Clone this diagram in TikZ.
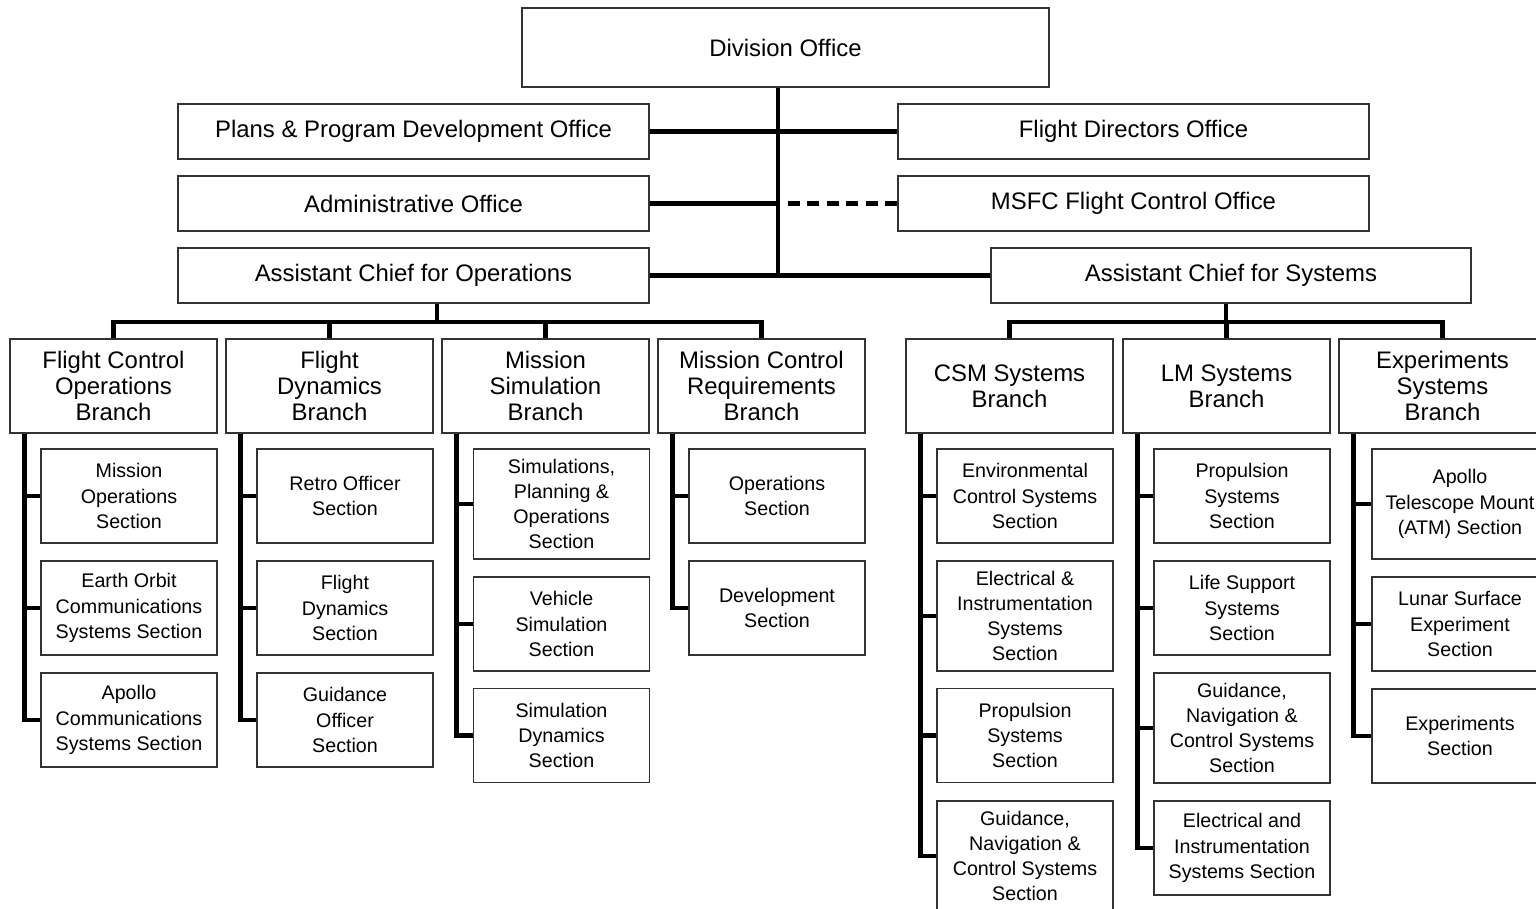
\documentclass[tikz,border=0pt]{standalone}
\usepackage{fontspec}
\setmainfont{Liberation Sans}
\tikzset{
	unit/.style={draw=black!80, line width=0.75pt, align=center, inner sep=0pt},
	office/.style={unit, minimum width=9.42cm, minimum height=1.1cm, font=\fontsize{13.6}{15}\selectfont},
	branch/.style={unit, minimum width=4.14cm, minimum height=1.88cm, font=\fontsize{13.6}{15}\selectfont},
	sect/.style={unit, minimum width=3.52cm, minimum height=1.88cm, font=\fontsize{11.2}{14.4}\selectfont},
	tall/.style={minimum height=2.2cm},
	link/.style={line width=2.6pt},
}
\begin{document}
\begin{tikzpicture}[x=0.02cm, y=-0.02cm]
				\useasboundingbox (0,0) rectangle (1536,909);
				\clip (0,0) rectangle (1536,909);
				% Các văn phòng
				\node[office, minimum width=10.54cm, minimum height=1.58cm] (div) at (785.5,47.5) {Division Office};
				\node[office] (plans) at (413.5,131.5) {Plans \& Program Development Office};
				\node[office] (fdo) at (1133.5,131.5) {Flight Directors Office};
				\node[office] (admin) at (413.5,203.5) {Administrative Office};
				\node[office] (msfc) at (1133.5,203.5) {MSFC Flight Control Office};
				\node[office] (ops) at (413.5,275.5) {Assistant Chief for Operations};
				\node[office, minimum width=9.6cm] (sys) at (1231,275.5) {Assistant Chief for Systems};
				
				% Các nhánh
				\node[branch] (fcob) at (113.5,386) {Flight Control\\Operations\\Branch};
				\node[branch] (fdb) at (329.5,386) {Flight\\Dynamics\\Branch};
				\node[branch] (msb) at (545.5,386) {Mission\\Simulation\\Branch};
				\node[branch] (mcrb) at (761.5,386) {Mission Control\\Requirements\\Branch};
				\node[branch] (csm) at (1009.5,386) {CSM Systems\\Branch};
				\node[branch] (lm) at (1226.5,386) {LM Systems\\Branch};
				\node[branch] (exp) at (1442.5,386) {Experiments\\Systems\\Branch};
				
				% Các bộ phận
				\node[sect] (fcob1) at (129,496) {Mission\\Operations\\Section};
				\node[sect] (fcob2) at (129,608) {Earth Orbit\\Communications\\Systems Section};
				\node[sect] (fcob3) at (129,720) {Apollo\\Communications\\Systems Section};
				\node[sect] (fdb1) at (345,496) {Retro Officer\\Section};
				\node[sect] (fdb2) at (345,608) {Flight\\Dynamics\\Section};
				\node[sect] (fdb3) at (345,720) {Guidance\\Officer\\Section};
				\node[sect, tall] (msb1) at (561.5,504) {Simulations,\\Planning \&\\Operations\\Section};
				\node[sect] (msb2) at (561.5,624) {Vehicle\\Simulation\\Section};
				\node[sect] (msb3) at (561.5,735.5) {Simulation\\Dynamics\\Section};
				\node[sect] (mcrb1) at (777,496) {Operations\\Section};
				\node[sect] (mcrb2) at (777,608) {Development\\Section};
				\node[sect] (csm1) at (1025,496) {Environmental\\Control Systems\\Section};
				\node[sect, tall] (csm2) at (1025,616) {Electrical \&\\Instrumentation\\Systems\\Section};
				\node[sect] (csm3) at (1025,735.5) {Propulsion\\Systems\\Section};
				\node[sect, tall] (csm4) at (1025,856) {Guidance,\\Navigation \&\\Control Systems\\Section};
				\node[sect] (lm1) at (1242,496) {Propulsion\\Systems\\Section};
				\node[sect] (lm2) at (1242,608) {Life Support\\Systems\\Section};
				\node[sect, tall] (lm3) at (1242,728) {Guidance,\\Navigation \&\\Control Systems\\Section};
				\node[sect] (lm4) at (1242,848) {Electrical and\\Instrumentation\\Systems Section};
				\node[sect, tall] (exp1) at (1460,504) {Apollo\\Telescope Mount\\(ATM) Section};
				\node[sect] (exp2) at (1460,624) {Lunar Surface\\Experiment\\Section};
				\node[sect] (exp3) at (1460,736) {Experiments\\Section};
				
				% Đường nối phía trên
				\coordinate (trunk) at (778,275.5);
				\draw[link] (div.south -| trunk) -- (trunk);
				\draw[link] (plans.east) -- (fdo.west);
				\draw[link] (admin.east) -- (admin.east -| trunk);
				\draw[link, dash pattern=on 0.24cm off 0.15cm] (msfc.west) -- (admin.east -| trunk);
				\draw[link] (ops.east) -- (sys.west);
				
				% Đường nối đến các nhánh
				\coordinate (opsbus) at (437,322);
				\coordinate (sysbus) at (1226,322);
				\draw[link] (ops.south -| opsbus) -- (opsbus);
				\draw[link] (fcob.north) |- (opsbus) -| (mcrb.north);
				\foreach \b in {fdb,msb}{\draw[link] (\b.north) -- (\b.north |- opsbus);}
				\draw[link] (sys.south -| sysbus) -- (sysbus);
				\draw[link] (csm.north) |- (sysbus) -| (exp.north);
				\draw[link] (lm.north) -- (lm.north |- sysbus);
				
				% Đường nối đến các bộ phận
				\foreach \b/\s in {fcob/fcob1,fcob/fcob2,fcob/fcob3,fdb/fdb1,fdb/fdb2,fdb/fdb3,
					msb/msb1,msb/msb2,msb/msb3,mcrb/mcrb1,mcrb/mcrb2,csm/csm1,csm/csm2,csm/csm3,csm/csm4,
					lm/lm1,lm/lm2,lm/lm3,lm/lm4,exp/exp1,exp/exp2,exp/exp3}
					{\draw[link] ([xshift=0.3cm]\b.south west) |- (\s.west);}
			\end{tikzpicture}
\end{document}
